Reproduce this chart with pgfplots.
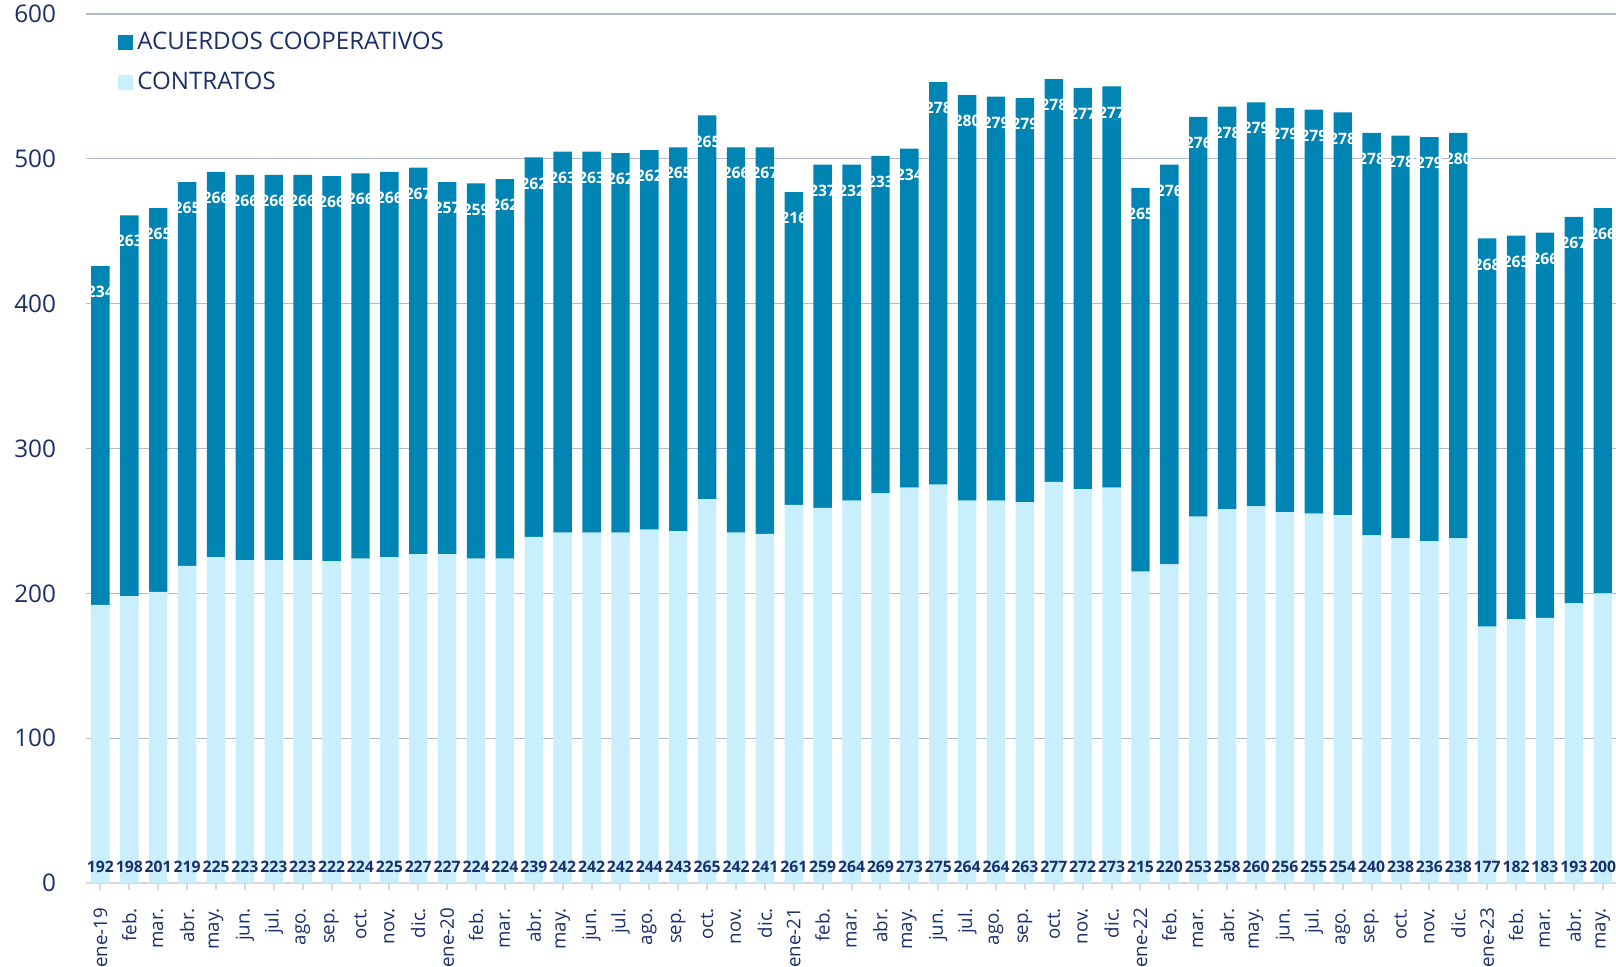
\documentclass[border=0pt]{standalone}
\usepackage{pgfplots}
\pgfplotsset{compat=1.18}
\usepackage{pgfplotstable}
\usepackage{fontspec}
\setmainfont{Open Sans}

\definecolor{acuerdos}{HTML}{0084B4}
\definecolor{contratos}{HTML}{C9EEFC}
\definecolor{navy}{HTML}{1A2F6A}
\definecolor{gridc}{HTML}{B3BACF}
\definecolor{axisgray}{HTML}{D9D9D9}

% x: mes (0 = ene-19), c: contratos, a: acuerdos cooperativos
\pgfplotstableread{
x c a
0 192 234
1 198 263
2 201 265
3 219 265
4 225 266
5 223 266
6 223 266
7 223 266
8 222 266
9 224 266
10 225 266
11 227 267
12 227 257
13 224 259
14 224 262
15 239 262
16 242 263
17 242 263
18 242 262
19 244 262
20 243 265
21 265 265
22 242 266
23 241 267
24 261 216
25 259 237
26 264 232
27 269 233
28 273 234
29 275 278
30 264 280
31 264 279
32 263 279
33 277 278
34 272 277
35 273 277
36 215 265
37 220 276
38 253 276
39 258 278
40 260 279
41 256 279
42 255 279
43 254 278
44 240 278
45 238 278
46 236 279
47 238 280
48 177 268
49 182 265
50 183 266
51 193 267
52 200 266
}\datos

\begin{document}
\begin{tikzpicture}
\path[use as bounding box, clip] (0,0) rectangle (808bp,483.5bp);
\begin{axis}[
    at={(43bp,42bp)}, anchor=south west,
    scale only axis, width=765bp, height=434.5bp,
    ybar stacked, bar width=9.2bp,
    xmin=-0.5, xmax=52.46, ymin=0, ymax=600,
    /pgf/number format/assume math mode=true,
    axis x line*=bottom, axis y line*=left, separate axis lines,
    x axis line style={draw=axisgray, line width=1bp, -},
    y axis line style={draw=none},
    ymajorgrids, grid style={draw=gridc, line width=0.65bp},
    ytick={0,100,...,600},
    ytick style={draw=none},
    xtick={0,...,52},
    xtick style={draw=axisgray, line width=1bp},
    tick align=outside, major tick length=3.5bp,
    xticklabels={ene-19,feb.,mar.,abr.,may.,jun.,jul.,ago.,sep.,oct.,nov.,dic.,
        ene-20,feb.,mar.,abr.,may.,jun.,jul.,ago.,sep.,oct.,nov.,dic.,
        ene-21,feb.,mar.,abr.,may.,jun.,jul.,ago.,sep.,oct.,nov.,dic.,
        ene-22,feb.,mar.,abr.,may.,jun.,jul.,ago.,sep.,oct.,nov.,dic.,
        ene-23,feb.,mar.,abr.,may.},
    xticklabel shift=5.5bp,
    xticklabel style={rotate=90, anchor=east, text=navy,
        font=\fontsize{9.4}{11}\selectfont},
    yticklabel style={text=navy, font=\fontsize{12.2}{14}\selectfont, xshift=-8bp},
    legend style={at={(axis description cs:0,1)}, anchor=north west,
        xshift=13bp, yshift=-5bp, draw=none, fill=none, text=navy,
        font=\fontsize{12.1}{13.5}\selectfont, row sep=5.5bp,
        /tikz/every even column/.append style={column sep=1bp}},
    legend cell align=left,
    reverse legend,
]
\addplot[fill=contratos, draw=none,
    legend image code/.code={\fill[contratos] (0bp,-3.75bp) rectangle (7.5bp,3.75bp);},
    nodes near coords, point meta=explicit,
    visualization depends on={0.5*rawy \as \halfy},
    nodes near coords style={shift={(axis direction cs:0,-\halfy)}, anchor=center,
        yshift=8bp, text=navy, font=\bfseries\fontsize{7.9}{9}\selectfont}]
    table[x=x, y=c, meta=c] {\datos};
\addlegendentry{CONTRATOS}
\addplot[fill=acuerdos, draw=none,
    legend image code/.code={\fill[acuerdos] (0bp,-3.75bp) rectangle (7.5bp,3.75bp);},
    nodes near coords, point meta=explicit,
    visualization depends on={0.5*rawy \as \halfa},
    nodes near coords style={shift={(axis direction cs:0,\halfa)}, anchor=center,
        yshift=-13bp, text=white, font=\bfseries\fontsize{7.9}{9}\selectfont}]
    table[x=x, y=a, meta=a] {\datos};
\addlegendentry{ACUERDOS COOPERATIVOS}
\end{axis}
\end{tikzpicture}
\end{document}
